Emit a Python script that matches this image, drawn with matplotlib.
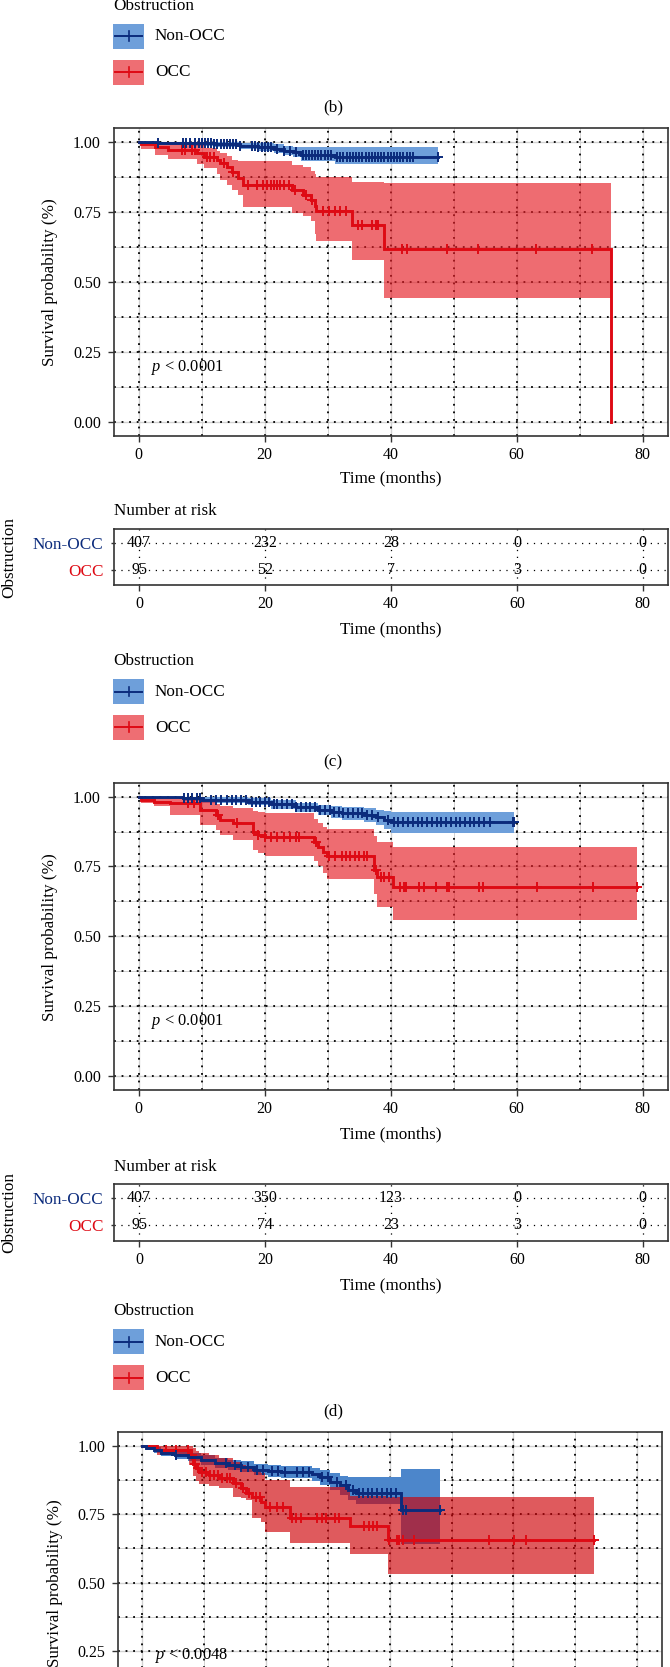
import numpy as np
import matplotlib
matplotlib.use('Agg')
import matplotlib.pyplot as plt
from matplotlib.patches import Rectangle
from matplotlib.lines import Line2D

# ---------------- data ----------------
groups = ['Non-OCC', 'OCC']
risk_times = [0, 20, 40, 60, 80]
c_risk_nonocc = [407, 232, 28, 0, 0]
c_risk_occ = [95, 52, 7, 3, 0]
d_risk_nonocc = [407, 350, 123, 0, 0]
d_risk_occ = [95, 74, 23, 3, 0]

# panel (c)
c_non_t = [0, 3, 8, 12, 16, 19, 21.5, 23, 24.5, 25.8, 31.2]
c_non_s = [1.0, 0.997, 0.994, 0.99, 0.986, 0.982, 0.975, 0.968, 0.962, 0.952, 0.946]
c_non_hi = [1.0, 1.0, 1.0, 1.0, 0.997, 0.994, 0.99, 0.986, 0.982, 0.982, 0.98]
c_non_lo = [1.0, 0.99, 0.985, 0.98, 0.974, 0.968, 0.96, 0.952, 0.944, 0.932, 0.919]
c_non_end = 47.5
c_non_cens = [3.0, 7.0, 7.5, 8.2, 9.0, 9.5, 10.0, 10.5, 11.0, 11.5, 12.0, 12.5, 13.0, 13.5,
              14.0, 14.5, 15.0, 15.5, 16.0, 18.0, 18.5, 19.0, 19.5, 20.0, 20.5, 21.0, 22.0,
              23.0, 24.0, 25.0, 26.0, 26.5, 27.0, 27.5, 28.0, 28.5, 29.0, 29.5, 30.0, 30.5,
              31.5, 32.0, 32.5, 33.0, 33.5, 34.0, 34.5, 35.0, 35.5, 36.0, 36.5, 37.0, 37.5,
              38.0, 38.5, 39.0, 39.5, 40.0, 40.5, 41.0, 41.5, 42.0, 42.5, 43.0, 43.5, 47.5]

c_occ_t = [0, 0.3, 2.6, 4.7, 9.2, 10.3, 12.4, 12.9, 14.0, 14.8, 15.8, 16.6, 24.4, 26.1,
           27.4, 27.9, 28.2, 33.8, 38.9, 75.0]
c_occ_s = [1.0, 0.99, 0.98, 0.97, 0.958, 0.946, 0.935, 0.923, 0.91, 0.893, 0.869, 0.847,
           0.827, 0.809, 0.791, 0.772, 0.753, 0.701, 0.615, 0.0]
c_occ_hi = [1.0, 1.0, 1.0, 1.0, 0.99, 0.976, 0.965, 0.958, 0.948, 0.935, 0.932, 0.932,
            0.918, 0.908, 0.895, 0.885, 0.875, 0.857, 0.854, 0.854]
c_occ_lo = [1.0, 0.975, 0.952, 0.937, 0.92, 0.905, 0.885, 0.863, 0.845, 0.827, 0.81, 0.768,
            0.745, 0.735, 0.715, 0.67, 0.645, 0.576, 0.441, 0.441]
c_occ_end = 75.0
c_occ_cens = [6.8, 7.3, 8.4, 8.9, 10.8, 11.3, 12.0, 13.5, 15.0, 17.3, 18.7, 19.7, 20.4,
              21.0, 21.5, 22.0, 22.4, 23.1, 23.8, 24.8, 26.5, 27.5, 29.2, 30.2, 31.2, 31.9,
              32.9, 34.8, 35.5, 37.0, 37.6, 38.0, 41.8, 42.5, 48.9, 53.9, 63.0, 72.0]

# panel (d)
d_non_t = [0, 7, 10, 17.4, 21, 25, 28.5, 30.5, 32.3, 35.7, 37.7, 39.0, 40.1]
d_non_s = [1.0, 0.994, 0.988, 0.982, 0.972, 0.962, 0.952, 0.945, 0.94, 0.934, 0.926, 0.916, 0.908]
d_non_hi = [1.0, 1.0, 0.998, 0.994, 0.987, 0.979, 0.971, 0.966, 0.962, 0.958, 0.952, 0.948, 0.946]
d_non_lo = [1.0, 0.986, 0.978, 0.97, 0.957, 0.945, 0.933, 0.924, 0.918, 0.91, 0.899, 0.885, 0.869]
d_non_end = 59.6
d_non_cens = [7.2, 7.8, 8.5, 9.2, 9.8, 11.5, 12.2, 13.0, 14.0, 14.8, 15.5, 16.2, 17.0, 18.0,
              18.6, 19.3, 20.0, 20.6, 21.4, 22.0, 22.8, 23.5, 24.3, 25.0, 25.8, 26.5, 27.2,
              28.0, 28.8, 29.5, 30.3, 31.0, 31.8, 32.5, 33.2, 34.0, 34.8, 35.5, 36.3, 37.0,
              38.0, 39.5, 40.5, 41.2, 42.0, 42.8, 43.5, 44.3, 45.0, 45.8, 46.5, 47.3, 48.0,
              48.8, 49.5, 50.3, 51.0, 51.8, 52.5, 53.2, 54.0, 54.8, 55.7, 59.4, 59.6]

d_occ_t = [0, 0.3, 2.4, 5.0, 9.7, 12.3, 12.9, 15.0, 18.2, 19.0, 20.0, 27.8, 28.5, 29.3,
           29.9, 37.3, 37.8, 40.4]
d_occ_s = [1.0, 0.988, 0.982, 0.976, 0.952, 0.934, 0.916, 0.904, 0.875, 0.863, 0.857, 0.838,
           0.821, 0.803, 0.787, 0.737, 0.711, 0.675]
d_occ_hi = [1.0, 1.0, 1.0, 1.0, 0.985, 0.975, 0.965, 0.958, 0.948, 0.944, 0.94, 0.92, 0.905,
            0.893, 0.883, 0.86, 0.838, 0.819]
d_occ_lo = [1.0, 0.976, 0.965, 0.934, 0.898, 0.88, 0.862, 0.844, 0.809, 0.80, 0.788, 0.77,
            0.75, 0.725, 0.705, 0.65, 0.604, 0.558]
d_occ_end = 79.1
d_occ_cens = [7.8, 8.8, 12.6, 15.6, 19.0, 20.0, 21.0, 22.0, 23.0, 24.0, 25.0, 25.5, 28.2,
              30.2, 31.2, 32.2, 32.9, 33.6, 34.3, 35.0, 35.7, 36.3, 37.7, 38.4, 39.0, 39.7,
              41.4, 42.1, 42.4, 44.5, 45.2, 47.2, 48.9, 49.2, 54.0, 54.7, 63.2, 72.1, 79.1]

# panel (e)
e_non_t = [0, 0.5, 1.9, 3.0, 5.2, 7.3, 9.5, 11.7, 13.8, 16.0, 18.1, 20.3, 22.4, 27.5, 28.8,
           30.4, 32.0, 33.3, 34.6, 41.8]
e_non_s = [1.0, 0.992, 0.984, 0.975, 0.966, 0.958, 0.948, 0.938, 0.929, 0.923, 0.913, 0.908,
           0.904, 0.895, 0.885, 0.869, 0.855, 0.84, 0.828, 0.765]
e_non_hi = [1.0, 1.0, 0.995, 0.988, 0.98, 0.973, 0.965, 0.956, 0.948, 0.943, 0.934, 0.93,
            0.927, 0.92, 0.912, 0.9, 0.89, 0.886, 0.884, 0.915]
e_non_lo = [1.0, 0.984, 0.972, 0.962, 0.952, 0.943, 0.931, 0.92, 0.91, 0.903, 0.892, 0.886,
            0.881, 0.87, 0.858, 0.838, 0.82, 0.80, 0.787, 0.64]
e_non_end = 48.2
e_non_cens = [5.5, 13.5, 15.0, 16.0, 17.0, 18.5, 19.5, 21.0, 22.0, 23.0, 25.0, 26.0, 27.0,
              29.0, 30.0, 31.5, 33.0, 34.0, 35.0, 35.7, 36.5, 37.2, 38.0, 38.8, 39.5, 40.2,
              41.0, 42.2, 42.6, 48.2]

e_occ_t = [0, 2.4, 7.5, 8.2, 8.7, 9.2, 10.8, 12.4, 14.6, 15.9, 16.7, 17.8, 19.2, 19.9,
           23.8, 33.5, 39.7]
e_occ_s = [1.0, 0.986, 0.966, 0.935, 0.917, 0.905, 0.893, 0.881, 0.863, 0.844, 0.826, 0.812,
           0.796, 0.777, 0.737, 0.707, 0.656]
e_occ_hi = [1.0, 1.0, 1.0, 0.99, 0.98, 0.972, 0.965, 0.955, 0.94, 0.93, 0.923, 0.915, 0.9,
            0.875, 0.848, 0.818, 0.814]
e_occ_lo = [1.0, 0.965, 0.93, 0.89, 0.87, 0.862, 0.853, 0.845, 0.814, 0.81, 0.80, 0.736,
            0.72, 0.686, 0.644, 0.603, 0.53]
e_occ_end = 73.0
e_occ_cens = [3.8, 5.5, 7.3, 8.0, 8.5, 9.0, 9.6, 10.3, 11.0, 11.6, 12.3, 12.9, 13.6, 14.2,
              15.2, 16.3, 17.3, 18.3, 19.0, 20.7, 21.8, 22.8, 24.2, 24.9, 25.6, 28.3, 29.0,
              29.7, 31.1, 31.8, 35.9, 36.6, 37.3, 38.0, 39.9, 41.1, 41.5, 42.2, 43.9, 56.0,
              60.1, 62.0, 73.0]

p_c = 'p < 0.0001'
p_d = 'p < 0.0001'
p_e = 'p < 0.0048'

# ---------------- style ----------------
W, H, DPI = 670, 1667, 100
plt.rcParams['font.family'] = ['Liberation Serif', 'DejaVu Serif']
plt.rcParams['mathtext.fontset'] = 'custom'
plt.rcParams['mathtext.rm'] = 'Liberation Serif'
plt.rcParams['mathtext.it'] = 'Liberation Serif:italic'

NAVY = '#0B2B7C'
RED = '#DE0A14'
BLUE_BAND = '#6E9FDA'
RED_BAND_CD = (229/255, 29/255, 37/255)
BLUE_BAND_E = '#4C86CB'
RED_BAND_E = (206/255, 1/255, 7/255)
LEG_BLUE = '#6E9FDA'
LEG_RED = '#EE6E73'
FRAME = '#333333'
TICK_FS = 11.5
TXT_FS = 12.3

fig = plt.figure(figsize=(W / DPI, H / DPI), dpi=DPI)


def fx(x):
    return x / W


def fy(y):
    return 1 - y / H


def axes_px(left, top, right, bottom):
    return fig.add_axes([fx(left), fy(bottom), (right - left) / W, (bottom - top) / H])


def style_frame(ax):
    for sp in ax.spines.values():
        sp.set_color(FRAME)
        sp.set_linewidth(1.2)


def draw_band(ax, t, s, lo, hi, end, cens, band_color, band_alpha, z):
    tt = np.append(np.asarray(t, float), end)
    ax.fill_between(tt, np.append(lo, lo[-1]), np.append(hi, hi[-1]), step='post',
                    color=band_color, alpha=band_alpha, lw=0, zorder=z)


def draw_line(ax, t, s, end, cens, color, z):
    t = np.asarray(t, float)
    s = np.asarray(s, float)
    tt = np.append(t, end)
    ax.step(tt, np.append(s, s[-1]), where='post', color=color, lw=2.1, zorder=z,
            solid_joinstyle='miter')
    c = np.asarray(cens, float)
    idx = np.searchsorted(t, c, side='right') - 1
    ax.plot(c, s[idx], ls='none', marker='+', ms=7.5, mew=1.4, color=color, zorder=z + 0.1)


def main_panel(top, left, right, unit_px, data, pval, bands, p_y=0.195, p_va='center',
               cut=False):
    height = 1.1 * unit_px
    ax = axes_px(left, top, right, top + height)
    ax.set_xlim(-4, 84)
    ax.set_ylim(-0.05, 1.05)
    for x in [0, 10, 20, 30, 40, 50, 60, 70, 80]:
        ax.axvline(x, color='#d2d2d2', lw=1.0 if x % 20 == 0 else 0.7, zorder=0.5)
        ax.axvline(x, color='black', lw=1.3, ls=(0, (1, 3.2)), zorder=0.6)
    for y in [0, 0.125, 0.25, 0.375, 0.5, 0.625, 0.75, 0.875, 1.0]:
        ax.axhline(y, color='#d2d2d2', lw=1.0 if (y * 4) % 1 == 0 else 0.7, zorder=0.5)
        ax.axhline(y, color='black', lw=1.3, ls=(0, (1, 3.2)), zorder=0.6)
    non, occ = data
    draw_band(ax, *non, band_color=bands[0], band_alpha=1.0, z=1)
    draw_band(ax, *occ, band_color=bands[1], band_alpha=0.65, z=2)
    draw_line(ax, occ[0], occ[1], occ[4], occ[5], RED, 3)
    draw_line(ax, non[0], non[1], non[4], non[5], NAVY, 4)
    if cut:
        # only the part of panel (e) inside the page is shown
        ax.set_xticks([0, 20, 40, 60, 80])
        ax.set_xticklabels([])
        ax.set_yticks([0.25, 0.5, 0.75, 1.0])
        ax.set_yticklabels(['0.25', '0.50', '0.75', '1.00'])
    else:
        ax.set_xticks([0, 20, 40, 60, 80])
        ax.set_yticks([0, 0.25, 0.5, 0.75, 1.0])
        ax.set_yticklabels(['0.00', '0.25', '0.50', '0.75', '1.00'])
    ax.tick_params(axis='both', labelsize=TICK_FS, length=4, width=1.0, color=FRAME)
    ax.tick_params(axis='y', pad=5)
    ax.tick_params(axis='x', pad=4)
    style_frame(ax)
    ax.text(2.0, p_y, r'$p$' + pval[1:], fontsize=11.8, va=p_va, ha='left', zorder=5)
    return ax


def risk_panel(top, bottom, left, right, non_vals, occ_vals):
    ax = axes_px(left, top, right, bottom)
    ax.set_xlim(-4, 84)
    ax.set_ylim(0.43, 2.5)
    for x in risk_times:
        ax.axvline(x, color='black', lw=0.9, ls=(0, (1, 4.5)), zorder=0.5)
    for y in [1, 2]:
        ax.axhline(y, color='black', lw=0.9, ls=(0, (1, 4.5)), zorder=0.5)
    for x, v in zip(risk_times, non_vals):
        ax.text(x, 2, str(v), ha='center', va='center', fontsize=TICK_FS, zorder=2)
    for x, v in zip(risk_times, occ_vals):
        ax.text(x, 1, str(v), ha='center', va='center', fontsize=TICK_FS, zorder=2)
    ax.set_xticks(risk_times)
    ax.set_yticks([2, 1])
    ax.set_yticklabels(groups)
    for lab, col in zip(ax.get_yticklabels(), [NAVY, RED]):
        lab.set_color(col)
    ax.tick_params(axis='y', labelsize=TXT_FS, length=2.5, width=1.0, color=FRAME, pad=5)
    ax.tick_params(axis='x', labelsize=TICK_FS, length=4, width=1.0, color=FRAME, pad=4)
    style_frame(ax)
    return ax


def legend_block(y_title):
    fig.text(fx(113), fy(y_title), 'Obstruction', fontsize=TXT_FS, ha='left', va='center')
    for k, (lab, fc, lc) in enumerate([('Non-OCC', LEG_BLUE, NAVY), ('OCC', LEG_RED, RED)]):
        ptop = y_title + 18 + 36 * k
        pbot = ptop + 25
        fig.add_artist(Rectangle((fx(113), fy(pbot)), 31 / W, 25 / H, transform=fig.transFigure,
                                 facecolor=fc, edgecolor='none'))
        yc = (ptop + pbot) / 2
        fig.add_artist(Line2D([fx(115), fx(142)], [fy(yc), fy(yc)], transform=fig.transFigure,
                              color=lc, lw=1.4))
        fig.add_artist(Line2D([fx(128.5), fx(128.5)], [fy(yc - 5), fy(yc + 5)],
                              transform=fig.transFigure, color=lc, lw=1.2))
        fig.text(fx(155), fy(yc), lab, fontsize=TXT_FS, ha='left', va='center')


# top: legend of panel (b)
legend_block(6)
fig.text(fx(333), fy(107), '(b)', fontsize=TXT_FS, ha='center', va='center')

# panel (c)
c_data = ((c_non_t, c_non_s, c_non_lo, c_non_hi, c_non_end, c_non_cens),
          (c_occ_t, c_occ_s, c_occ_lo, c_occ_hi, c_occ_end, c_occ_cens))
main_panel(127.7, 113.5, 668, 280, c_data, p_c, (BLUE_BAND, RED_BAND_CD))
fig.text(fx(50), fy(282), 'Survival probability (%)', rotation=90, fontsize=TXT_FS,
         ha='center', va='center')
fig.text(fx(391), fy(478), 'Time (months)', fontsize=TXT_FS, ha='center', va='center')
fig.text(fx(114), fy(511), 'Number at risk', fontsize=TXT_FS, ha='left', va='center')
risk_panel(529, 585, 114, 668, c_risk_nonocc, c_risk_occ)
fig.text(fx(9), fy(557), 'Obstruction', rotation=90, fontsize=TXT_FS, ha='center', va='center')
fig.text(fx(391), fy(629), 'Time (months)', fontsize=TXT_FS, ha='center', va='center')
legend_block(661)
fig.text(fx(333), fy(762), '(c)', fontsize=TXT_FS, ha='center', va='center')

# panel (d)
d_data = ((d_non_t, d_non_s, d_non_lo, d_non_hi, d_non_end, d_non_cens),
          (d_occ_t, d_occ_s, d_occ_lo, d_occ_hi, d_occ_end, d_occ_cens))
main_panel(782.7, 113.5, 668, 279.3, d_data, p_d, (BLUE_BAND, RED_BAND_CD))
fig.text(fx(50), fy(937), 'Survival probability (%)', rotation=90, fontsize=TXT_FS,
         ha='center', va='center')
fig.text(fx(391), fy(1134), 'Time (months)', fontsize=TXT_FS, ha='center', va='center')
fig.text(fx(114), fy(1167), 'Number at risk', fontsize=TXT_FS, ha='left', va='center')
risk_panel(1184.3, 1240.7, 114, 668, d_risk_nonocc, d_risk_occ)
fig.text(fx(9), fy(1212), 'Obstruction', rotation=90, fontsize=TXT_FS, ha='center', va='center')
fig.text(fx(391), fy(1285), 'Time (months)', fontsize=TXT_FS, ha='center', va='center')
legend_block(1311)
fig.text(fx(333), fy(1411), '(d)', fontsize=TXT_FS, ha='center', va='center')

# panel (e) (cut by the page bottom)
e_data = ((e_non_t, e_non_s, e_non_lo, e_non_hi, e_non_end, e_non_cens),
          (e_occ_t, e_occ_s, e_occ_lo, e_occ_hi, e_occ_end, e_occ_cens))
main_panel(1432.0, 117.7, 661.7, 274, e_data, p_e, (BLUE_BAND_E, RED_BAND_E),
           p_y=0.2, p_va='bottom', cut=True)
fig.text(fx(55), fy(1583), 'Survival probability (%)', rotation=90, fontsize=TXT_FS,
         ha='center', va='center')

fig.savefig('out.png', dpi=DPI)
